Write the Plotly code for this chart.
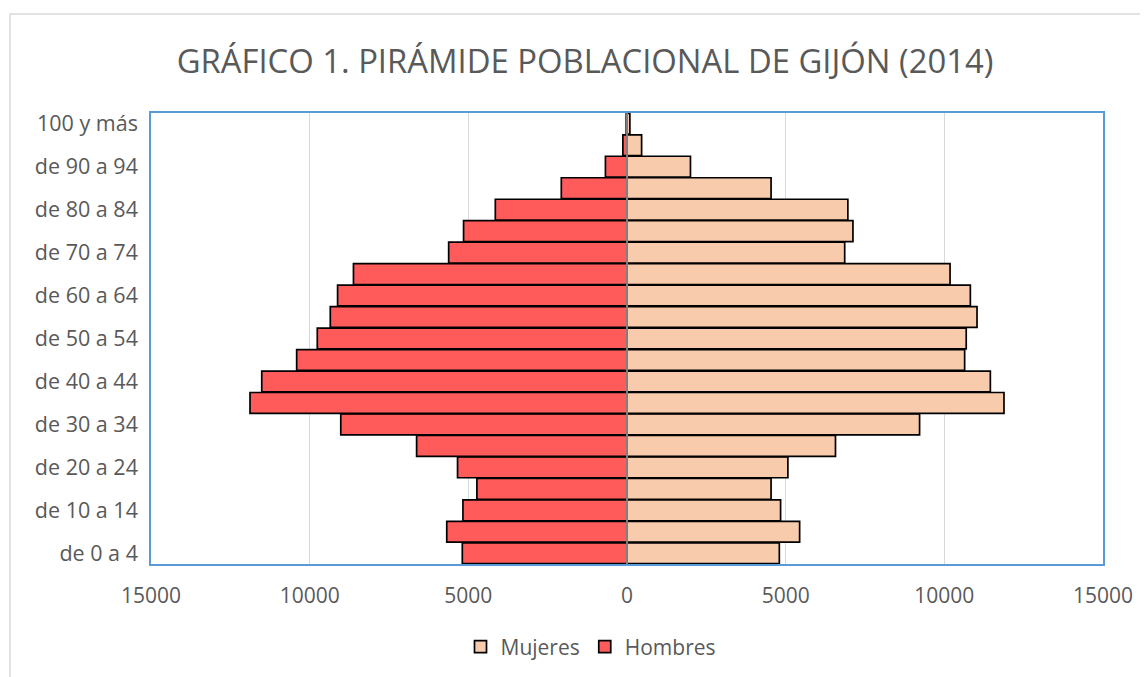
import plotly.graph_objects as go

age_groups = ["de 0 a 4", "de 5 a 9", "de 10 a 14", "de 15 a 19", "de 20 a 24",
              "de 25 a 29", "de 30 a 34", "de 35 a 39", "de 40 a 44", "de 45 a 49",
              "de 50 a 54", "de 55 a 59", "de 60 a 64", "de 65 a 69", "de 70 a 74",
              "de 75 a 79", "de 80 a 84", "de 85 a 89", "de 90 a 94", "de 95 a 99",
              "100 y más"]

mujeres = [4800, 5440, 4840, 4540, 5070, 6570, 9220, 11880, 11450, 10640,
           10690, 11030, 10820, 10180, 6860, 7120, 6960, 4540, 2000, 460, 90]
hombres = [5190, 5680, 5170, 4730, 5340, 6630, 9020, 11880, 11510, 10410,
           9760, 9350, 9120, 8620, 5620, 5150, 4150, 2070, 680, 130, 25]

x_tickvals = [-15000, -10000, -5000, 0, 5000, 10000, 15000]
x_ticktext = ["15000", "10000", "5000", "0", "5000", "10000", "15000"]
y_tickvals = age_groups[::2]

title_text = "GRÁFICO 1. PIRÁMIDE POBLACIONAL DE GIJÓN (2014)"
font_family = "Open Sans, Noto Sans, sans-serif"
grey_text = "#595959"

fig = go.Figure()
fig.add_trace(go.Bar(
    y=age_groups, x=mujeres, orientation="h", name="Mujeres",
    marker=dict(color="#F8CBAD", line=dict(color="#000000", width=1.7)),
))
fig.add_trace(go.Bar(
    y=age_groups, x=[-v for v in hombres], orientation="h", name="Hombres",
    customdata=hombres, hovertemplate="%{y}: %{customdata}<extra>Hombres</extra>",
    marker=dict(color="#FF5B5B", line=dict(color="#000000", width=1.7)),
))

# page has an 8px body margin; compensate so the plot lands where the reference has it
OFF = 8
W, H = 1148 - OFF, 677 - OFF
L, R, T, B = 151 - OFF, 45, 113 - OFF, 113
pw, ph = W - L - R, H - T - B

def px_to_paper_x(px):
    return (px - OFF - L) / pw

def px_to_paper_y(py):
    return (H - B - (py - OFF)) / ph

fig.update_layout(
    width=W, height=H,
    margin=dict(l=L, r=R, t=T, b=B),
    paper_bgcolor="white", plot_bgcolor="white",
    barmode="relative", bargap=0.03,
    font=dict(family=font_family, color=grey_text),
    title=dict(text=title_text, x=(585 - OFF) / W, xanchor="center", xref="container",
               y=1 - (62 - OFF) / H, yanchor="middle", yref="container",
               font=dict(size=32.8, color=grey_text, family=font_family)),
    xaxis=dict(range=[-15000, 15000], tickvals=x_tickvals, ticktext=x_ticktext,
               showgrid=True, gridcolor="#D9D9D9", gridwidth=1, zeroline=False,
               showline=True, linecolor="#5B9BD5", linewidth=1.5, mirror=True,
               ticks="", ticklabelstandoff=12,
               tickfont=dict(size=21, color=grey_text)),
    yaxis=dict(categoryorder="array", categoryarray=age_groups,
               tickvals=y_tickvals, showgrid=False, zeroline=False,
               showline=True, linecolor="#5B9BD5", linewidth=1.5, mirror=True,
               ticks="", ticklabelstandoff=7,
               tickfont=dict(size=21.5, color=grey_text)),
    legend=dict(orientation="h", xref="container", x=(591 - OFF) / W, xanchor="center",
                yref="container", y=1 - (647 - OFF) / H, yanchor="middle",
                font=dict(size=21, color=grey_text), traceorder="normal",
                itemwidth=30),
    showlegend=True,
)

fig.add_shape(type="line", xref="x", yref="paper", x0=0, x1=0, y0=0, y1=1,
              line=dict(color="#A6A6A6", width=1.5), layer="above")
fig.add_shape(type="rect", xref="paper", yref="paper",
              x0=px_to_paper_x(10), x1=px_to_paper_x(1148 + 20),
              y0=px_to_paper_y(677 + 20), y1=px_to_paper_y(14),
              line=dict(color="#D9D9D9", width=1.5), fillcolor="rgba(0,0,0,0)",
              layer="below")

fig.write_html("out.html")
